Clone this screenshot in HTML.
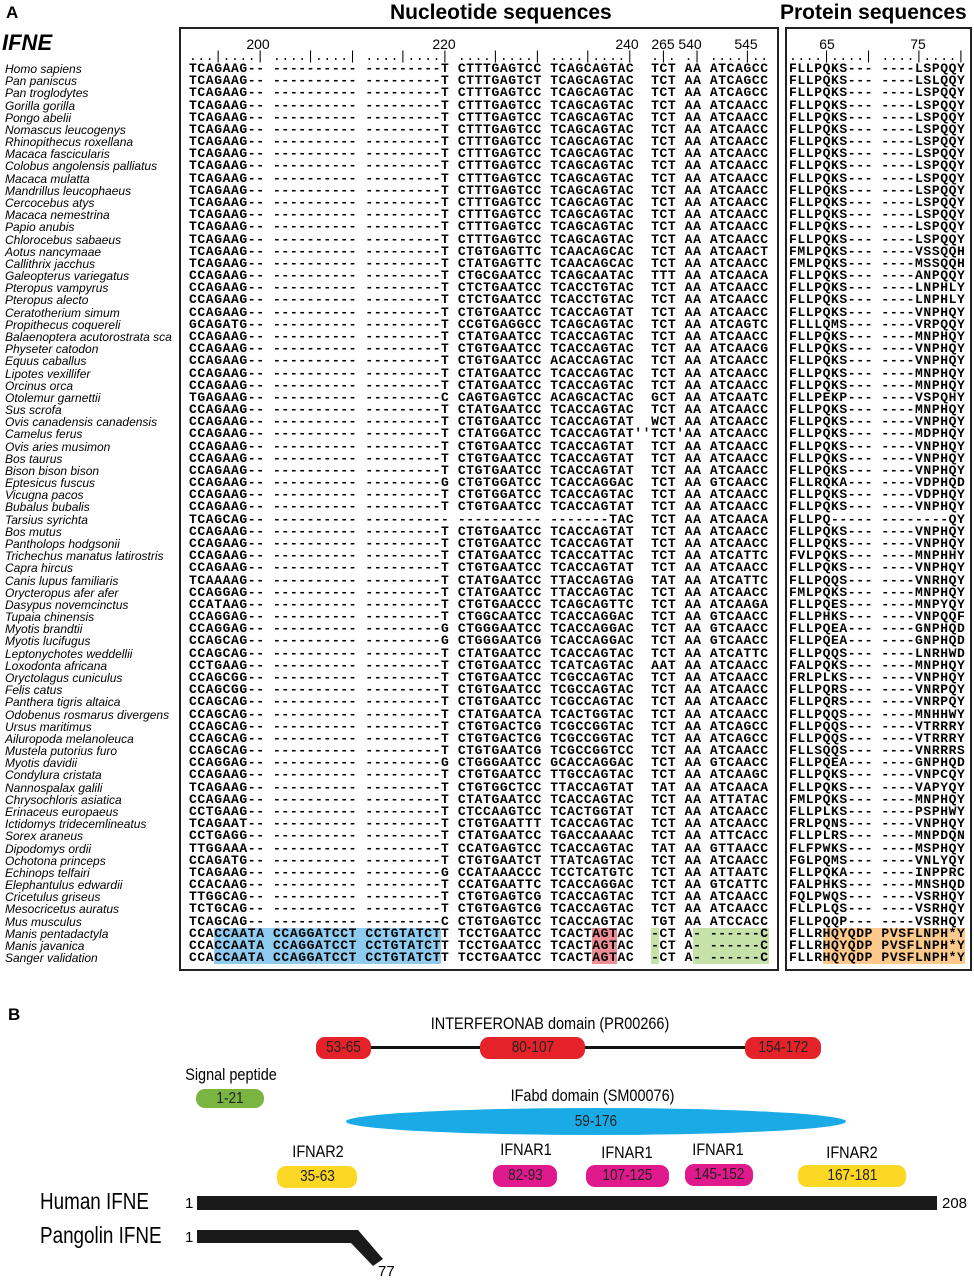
<!DOCTYPE html>
<html><head><meta charset="utf-8">
<style>
*{margin:0;padding:0;box-sizing:border-box}
body{width:974px;height:1280px;background:#fff;position:relative;overflow:hidden;font-family:"Liberation Sans",sans-serif;color:#000}
.abs{position:absolute;white-space:pre}
.mono{font-family:"Liberation Mono",monospace;font-weight:bold;font-size:13px;letter-spacing:0.6px;line-height:12.18px}
.sp{font-style:italic;font-size:12px;line-height:12.18px}
.box{position:absolute;border:2px solid #222}
.hl{position:absolute;height:12px}
.pill{position:absolute;border-radius:9px;text-align:center;font-size:16px;display:flex;align-items:center;justify-content:center;color:#222}
.pill span,.lbl{display:inline-block;transform:scaleX(0.85)}
.lbl{position:absolute;font-size:17px;white-space:nowrap;transform-origin:center}
</style></head><body>
<div class="abs" style="left:6px;top:3px;font-weight:bold;font-size:17px">A</div>
<div class="abs" style="left:2px;top:30px;font-weight:bold;font-style:italic;font-size:22px">IFNE</div>
<div class="abs" style="left:390px;top:1px;font-weight:bold;font-size:21px">Nucleotide sequences</div>
<div class="abs" style="left:780px;top:1px;font-weight:bold;font-size:21px">Protein sequences</div>
<div class="box" style="left:179px;top:27px;width:600px;height:944px"></div>
<div class="box" style="left:785px;top:27px;width:187px;height:944px"></div>
<div id="ticks"></div>
<div id="rows"></div>

<!-- Panel B -->
<div class="abs" style="left:8px;top:1005px;font-weight:bold;font-size:17px">B</div>
<div class="lbl" style="left:400px;top:1014px;width:300px;text-align:center">INTERFERONAB domain (PR00266)</div>
<div class="abs" style="left:340px;top:1046px;width:460px;height:3px;background:#111"></div>
<div class="pill" style="left:316px;top:1037px;width:55px;height:22px;background:#e52229"><span>53-65</span></div>
<div class="pill" style="left:480px;top:1037px;width:105px;height:22px;background:#e52229"><span>80-107</span></div>
<div class="pill" style="left:745px;top:1037px;width:76px;height:22px;background:#e52229"><span>154-172</span></div>
<div class="lbl" style="left:160px;top:1065px;width:142px;text-align:center">Signal peptide</div>
<div class="pill" style="left:196px;top:1089px;width:68px;height:19px;background:#7ab542"><span>1-21</span></div>
<div class="lbl" style="left:470px;top:1086px;width:245px;text-align:center">IFabd domain (SM00076)</div>
<div class="pill" style="left:346px;top:1108px;width:500px;height:27px;border-radius:50%;background:#1aabe6"><span>59-176</span></div>
<div class="lbl" style="left:280px;top:1142px;width:76px;text-align:center">IFNAR2</div>
<div class="pill" style="left:277px;top:1166px;width:80px;height:22px;background:#fcd723"><span>35-63</span></div>
<div class="lbl" style="left:488px;top:1140px;width:76px;text-align:center">IFNAR1</div>
<div class="pill" style="left:493px;top:1165px;width:64px;height:22px;background:#e0198c"><span>82-93</span></div>
<div class="lbl" style="left:589px;top:1143px;width:76px;text-align:center">IFNAR1</div>
<div class="pill" style="left:586px;top:1165px;width:83px;height:22px;background:#e0198c"><span>107-125</span></div>
<div class="lbl" style="left:680px;top:1140px;width:76px;text-align:center">IFNAR1</div>
<div class="pill" style="left:685px;top:1164px;width:68px;height:22px;background:#e0198c"><span>145-152</span></div>
<div class="lbl" style="left:814px;top:1143px;width:76px;text-align:center">IFNAR2</div>
<div class="pill" style="left:798px;top:1165px;width:108px;height:22px;background:#fcd723"><span>167-181</span></div>
<div class="abs" style="left:40px;top:1188px;font-size:23px;transform:scaleX(0.82);transform-origin:left">Human IFNE</div>
<div class="abs" style="left:185px;top:1195px;font-size:15px">1</div>
<div class="abs" style="left:197px;top:1196px;width:740px;height:14px;background:#1a1a1a"></div>
<div class="abs" style="left:942px;top:1195px;font-size:15px">208</div>
<div class="abs" style="left:40px;top:1222px;font-size:23px;transform:scaleX(0.82);transform-origin:left">Pangolin IFNE</div>
<div class="abs" style="left:185px;top:1229px;font-size:15px">1</div>
<svg class="abs" style="left:0;top:0" width="974" height="1280"><polygon points="197,1230 358,1230 383,1259 373,1266 351,1243 197,1243" fill="#1a1a1a"/></svg>
<div class="abs" style="left:378px;top:1263px;font-size:15px">77</div>

<script>
const tickLabels=["200","220","240","265","540","545"];
const tickX=[258,444,627,663,690,746];
const protTickLabels=["65","75"];
const protTickX=[827,918];
const rowsData=[
["Homo sapiens","TCAGAAG--","---------T","CTTTGAGTCC","TCAGCAGTAC","TCT","AA","ATCAGCC","FLLPQKS---","----LSPQQY"],
["Pan paniscus","TCAGAAG--","---------T","CTTTGAGTCT","TCAGCAGTAC","TCT","AA","ATCAGCC","FLLPQKS---","----LSLQQY"],
["Pan troglodytes","TCAGAAG--","---------T","CTTTGAGTCC","TCAGCAGTAC","TCT","AA","ATCAGCC","FLLPQKS---","----LSPQQY"],
["Gorilla gorilla","TCAGAAG--","---------T","CTTTGAGTCC","TCAGCAGTAC","TCT","AA","ATCAACC","FLLPQKS---","----LSPQQY"],
["Pongo abelii","TCAGAAG--","---------T","CTTTGAGTCC","TCAGCAGTAC","TCT","AA","ATCAACC","FLLPQKS---","----LSPQQY"],
["Nomascus leucogenys","TCAGAAG--","---------T","CTTTGAGTCC","TCAGCAGTAC","TCT","AA","ATCAACC","FLLPQKS---","----LSPQQY"],
["Rhinopithecus roxellana","TCAGAAG--","---------T","CTTTGAGTCC","TCAGCAGTAC","TCT","AA","ATCAACC","FLLPQKS---","----LSPQQY"],
["Macaca fascicularis","TCAGAAG--","---------T","CTTTGAGTCC","TCAGCAGTAC","TCT","AA","ATCAACC","FLLPQKS---","----LSPQQY"],
["Colobus angolensis palliatus","TCAGAAG--","---------T","CTTTGAGTCC","TCAGCAGTAC","TCT","AA","ATCAACC","FLLPQKS---","----LSPQQY"],
["Macaca mulatta","TCAGAAG--","---------T","CTTTGAGTCC","TCAGCAGTAC","TCT","AA","ATCAACC","FLLPQKS---","----LSPQQY"],
["Mandrillus leucophaeus","TCAGAAG--","---------T","CTTTGAGTCC","TCAGCAGTAC","TCT","AA","ATCAACC","FLLPQKS---","----LSPQQY"],
["Cercocebus atys","TCAGAAG--","---------T","CTTTGAGTCC","TCAGCAGTAC","TCT","AA","ATCAACC","FLLPQKS---","----LSPQQY"],
["Macaca nemestrina","TCAGAAG--","---------T","CTTTGAGTCC","TCAGCAGTAC","TCT","AA","ATCAACC","FLLPQKS---","----LSPQQY"],
["Papio anubis","TCAGAAG--","---------T","CTTTGAGTCC","TCAGCAGTAC","TCT","AA","ATCAACC","FLLPQKS---","----LSPQQY"],
["Chlorocebus sabaeus","TCAGAAG--","---------T","CTTTGAGTCC","TCAGCAGTAC","TCT","AA","ATCAACC","FLLPQKS---","----LSPQQY"],
["Aotus nancymaae","TCAGAAG--","---------T","CTGTGAGTTC","TCAACAGCAC","TCT","AA","ATCAACT","FMLPQKS---","----VSSQQH"],
["Callithrix jacchus","TCAGAAG--","---------T","CTATGAGTTC","TCAACAGCAC","TCT","AA","ATCAACC","FMLPQKS---","----MSSQQH"],
["Galeopterus variegatus","CCAGAAG--","---------T","CTGCGAATCC","TCAGCAATAC","TTT","AA","ATCAACA","FLLPQKS---","----ANPQQY"],
["Pteropus vampyrus","CCAGAAG--","---------T","CTCTGAATCC","TCACCTGTAC","TCT","AA","ATCAACC","FLLPQKS---","----LNPHLY"],
["Pteropus alecto","CCAGAAG--","---------T","CTCTGAATCC","TCACCTGTAC","TCT","AA","ATCAACC","FLLPQKS---","----LNPHLY"],
["Ceratotherium simum","CCAGAAG--","---------T","CTGTGAATCC","TCACCAGTAT","TCT","AA","ATCAACC","FLLPQKS---","----VNPHQY"],
["Propithecus coquereli","GCAGATG--","---------T","CCGTGAGGCC","TCAGCAGTAC","TCT","AA","ATCAGTC","FLLLQMS---","----VRPQQY"],
["Balaenoptera acutorostrata sca","CCAGAAG--","---------T","CTATGAATCC","TCACCAGTAC","TCT","AA","ATCAACC","FLLPQKS---","----MNPHQY"],
["Physeter catodon","CCAGAAG--","---------T","CTGTGAATCC","TCACCAGTAC","TCT","AA","ATCAACG","FLLPQKS---","----VNPHQY"],
["Equus caballus","CCAGAAG--","---------T","CTGTGAATCC","ACACCAGTAC","TCT","AA","ATCAACC","FLLPQKS---","----VNPHQY"],
["Lipotes vexillifer","CCAGAAG--","---------T","CTATGAATCC","TCACCAGTAC","TCT","AA","ATCAACC","FLLPQKS---","----MNPHQY"],
["Orcinus orca","CCAGAAG--","---------T","CTATGAATCC","TCACCAGTAC","TCT","AA","ATCAACC","FLLPQKS---","----MNPHQY"],
["Otolemur garnettii","TGAGAAG--","---------C","CAGTGAGTCC","ACAGCACTAC","GCT","AA","ATCAATC","FLLPEKP---","----VSPQHY"],
["Sus scrofa","CCAGAAG--","---------T","CTATGAATCC","TCACCAGTAC","TCT","AA","ATCAACC","FLLPQKS---","----MNPHQY"],
["Ovis canadensis canadensis","CCAGAAG--","---------T","CTGTGAATCC","TCACCAGTAT","WCT","AA","ATCAACC","FLLPQKS---","----VNPHQY"],
["Camelus ferus","CCAGAAG--","---------T","CTATGGATCC","TCACCAGTAT","TCT","AA","ATCAACC","FLLPQKS---","----MDPHQY"],
["Ovis aries musimon","CCAGAAG--","---------T","CTGTGAATCC","TCACCAGTAT","TCT","AA","ATCAACC","FLLPQKS---","----VNPHQY"],
["Bos taurus","CCAGAAG--","---------T","CTGTGAATCC","TCACCAGTAT","TCT","AA","ATCAACC","FLLPQKS---","----VNPHQY"],
["Bison bison bison","CCAGAAG--","---------T","CTGTGAATCC","TCACCAGTAT","TCT","AA","ATCAACC","FLLPQKS---","----VNPHQY"],
["Eptesicus fuscus","CCAGAAG--","---------G","CTGTGGATCC","TCACCAGGAC","TCT","AA","GTCAACC","FLLRQKA---","----VDPHQD"],
["Vicugna pacos","CCAGAAG--","---------T","CTGTGGATCC","TCACCAGTAC","TCT","AA","ATCAACC","FLLPQKS---","----VDPHQY"],
["Bubalus bubalis","CCAGAAG--","---------T","CTGTGAATCC","TCACCAGTAT","TCT","AA","ATCAACC","FLLPQKS---","----VNPHQY"],
["Tarsius syrichta","TCAGCAG--","----------","----------","-------TAC","TCT","AA","ATCAACA","FLLPQ-----","--------QY"],
["Bos mutus","CCAGAAG--","---------T","CTGTGAATCC","TCACCAGTAT","TCT","AA","ATCAACC","FLLPQKS---","----VNPHQY"],
["Pantholops hodgsonii","CCAGAAG--","---------T","CTGTGAATCC","TCACCAGTAT","TCT","AA","ATCAACC","FLLPQKS---","----VNPHQY"],
["Trichechus manatus latirostris","CCAGAAG--","---------T","CTATGAATCC","TCACCATTAC","TCT","AA","ATCATTC","FVLPQKS---","----MNPHHY"],
["Capra hircus","CCAGAAG--","---------T","CTGTGAATCC","TCACCAGTAT","TCT","AA","ATCAACC","FLLPQKS---","----VNPHQY"],
["Canis lupus familiaris","TCAAAAG--","---------T","CTATGAATCC","TTACCAGTAG","TAT","AA","ATCATTC","FLLPQQS---","----VNRHQY"],
["Orycteropus afer afer","CCAGGAG--","---------T","CTATGAATCC","TTACCAGTAC","TCT","AA","ATCAACC","FMLPQKS---","----MNPHQY"],
["Dasypus novemcinctus","CCATAAG--","---------T","CTGTGAACCC","TCAGCAGTTC","TCT","AA","ATCAAGA","FLLPQES---","----MNPYQY"],
["Tupaia chinensis","CCAGGAG--","---------T","CTGGCAATCC","TCACCAGGAC","TCT","AA","GTCAACC","FLLPHKS---","----VNPQQF"],
["Myotis brandtii","CCAGGAG--","---------G","CTGGGAATCC","TCACCAGGAC","TCT","AA","GTCAACC","FLLPQEA---","----GNPHQD"],
["Myotis lucifugus","CCAGCAG--","---------G","CTGGGAATCG","TCACCAGGAC","TCT","AA","GTCAACC","FLLPQEA---","----GNPHQD"],
["Leptonychotes weddellii","CCAGCAG--","---------T","CTATGAATCC","TCACCAGTAC","TCT","AA","ATCATTC","FLLPQQS---","----LNRHWD"],
["Loxodonta africana","CCTGAAG--","---------T","CTGTGAATCC","TCATCAGTAC","AAT","AA","ATCAACC","FALPQKS---","----MNPHQY"],
["Oryctolagus cuniculus","CCAGCGG--","---------T","CTGTGAATCC","TCGCCAGTAC","TCT","AA","ATCAACC","FRLPLKS---","----VNPHQY"],
["Felis catus","CCAGCGG--","---------T","CTGTGAATCC","TCGCCAGTAC","TCT","AA","ATCAACC","FLLPQRS---","----VNRPQY"],
["Panthera tigris altaica","CCAGCAG--","---------T","CTGTGAATCC","TCGCCAGTAC","TCT","AA","ATCAACC","FLLPQRS---","----VNRPQY"],
["Odobenus rosmarus divergens","CCAGCAG--","---------T","CTATGAATCA","TCACTGGTAC","TCT","AA","ATCAACC","FLLPQQS---","----MNHHWY"],
["Ursus maritimus","CCAGCAG--","---------T","CTGTGACTCG","TCGCCGGTAC","TCT","AA","ATCAGCC","FLLPQQS---","----VTRRRY"],
["Ailuropoda melanoleuca","CCAGCAG--","---------T","CTGTGACTCG","TCGCCGGTAC","TCT","AA","ATCAGCC","FLLPQQS---","----VTRRRY"],
["Mustela putorius furo","CCAGCAG--","---------T","CTGTGAATCG","TCGCCGGTCC","TCT","AA","ATCAACC","FLLSQQS---","----VNRRRS"],
["Myotis davidii","CCAGGAG--","---------G","CTGGGAATCC","GCACCAGGAC","TCT","AA","GTCAACC","FLLPQEA---","----GNPHQD"],
["Condylura cristata","CCAGAAG--","---------T","CTGTGAATCC","TTGCCAGTAC","TCT","AA","ATCAAGC","FLLPQKS---","----VNPCQY"],
["Nannospalax galili","TCAGAAG--","---------T","CTGTGGCTCC","TTACCAGTAT","TAT","AA","ATCAACA","FLLPQKS---","----VAPYQY"],
["Chrysochloris asiatica","CCAGAAG--","---------T","CTATGAATCC","TCACCAGTAC","TCT","AA","ATTATAC","FMLPQKS---","----MNPHQY"],
["Erinaceus europaeus","CCTGAAG--","---------T","CTCCAAGTCC","TCACTGGTAT","TCT","AA","ATCAACC","FLLPLKS---","----PSPHWY"],
["Ictidomys tridecemlineatus","TCAGAAT--","---------T","CTGTGAATTT","TCACCAGTAC","TCT","AA","ATCAACC","FRLPQNS---","----VNPHQY"],
["Sorex araneus","CCTGAGG--","---------T","CTATGAATCC","TGACCAAAAC","TCT","AA","ATTCACC","FLLPLRS---","----MNPDQN"],
["Dipodomys ordii","TTGGAAA--","---------T","CCATGAGTCC","TCACCAGTAC","TAT","AA","GTTAACC","FLFPWKS---","----MSPHQY"],
["Ochotona princeps","CCAGATG--","---------T","CTGTGAATCT","TTATCAGTAC","TCT","AA","ATCAACC","FGLPQMS---","----VNLYQY"],
["Echinops telfairi","TCAGAAG--","---------G","CCATAAACCC","TCCTCATGTC","TCT","AA","ATTAATC","FLLPQKA---","----INPPRC"],
["Elephantulus edwardii","CCACAAG--","---------T","CCATGAATTC","TCACCAGGAC","TCT","AA","GTCATTC","FALPHKS---","----MNSHQD"],
["Cricetulus griseus","TTGGCAG--","---------T","CTGTGAGTCG","TCACCAGTAC","TCT","AA","ATCAACC","FQLPWQS---","----VSRHQY"],
["Mesocricetus auratus","TCTGCAG--","---------T","CTGTGAGTCG","TCACCAGTAC","TCT","AA","ATCAACC","FLLPLQS---","----VSRHQY"],
["Mus musculus","TCAGCAG--","---------C","CTGTGAGTCC","TCACCAGTAC","TGT","AA","ATCCACC","FLLPQQP---","----VSRHQY"],
["Manis pentadactyla","CCACCAATA","CCTGTATCTT","TCCTGAATCC","TCACTAGTAC","-CT","A-","------C","FLLRHQYQDP","PVSFLNPH*Y"],
["Manis javanica","CCACCAATA","CCTGTATCTT","TCCTGAATCC","TCACTAGTAC","-CT","A-","------C","FLLRHQYQDP","PVSFLNPH*Y"],
["Sanger validation","CCACCAATA","CCTGTATCTT","TCCTGAATCC","TCACTAGTAC","-CT","A-","------C","FLLRHQYQDP","PVSFLNPH*Y"]
];
const group2Manis="CCAGGATCCT";
const CW=8.4, NX=189, PX=789, TOP=63, PITCH=12.18;
const ticks=document.getElementById('ticks');
function mk(parent,cls,style,txt){const d=document.createElement('div');d.className=cls;d.setAttribute('style',style);d.textContent=txt;parent.appendChild(d);return d;}
tickLabels.forEach((t,i)=>{
  const d=mk(ticks,'abs','left:'+(tickX[i]-15)+'px;top:36px;width:30px;text-align:center;font-size:14px',t);
  
  
});
protTickLabels.forEach((t,i)=>{
  const d=mk(ticks,'abs','left:'+(protTickX[i]-15)+'px;top:36px;width:30px;text-align:center;font-size:14px',t);
  
  
});
let r1=mk(ticks,'abs mono','left:'+NX+'px;top:51px;font-weight:normal','...|....| ....|....| ....|....| ....|....| ....|....|  .|. .| ....|..');


let r2=mk(ticks,'abs mono','left:'+PX+'px;top:51px;font-weight:normal','....|....| ....|....|');



const rows=document.getElementById('rows');
rowsData.forEach((r,i)=>{
  const y=TOP+i*PITCH;
  const manis=r[0].startsWith('Manis')||r[0].startsWith('Sanger');
  if(manis){
    const hls=[[NX+3*CW,NX+30*CW,'#8ecbef'],[NX+(44+4)*CW,NX+(44+7)*CW,'#ec8d96'],[NX+55*CW,NX+56*CW,'#c6e2a9'],[NX+60*CW,NX+69*CW,'#c6e2a9'],[PX+4*CW,PX+21*CW,'#fbc98c']];
    hls.forEach(h=>{const d=mk(rows,'hl','left:'+h[0]+'px;top:'+(y)+'px;width:'+(h[1]-h[0])+'px;background:'+h[2],'');
      
      });
  }
  const n=mk(rows,'abs sp','left:5px;top:'+y+'px',r[0]);
  
  
  const g2=manis?group2Manis:'----------';
  let sep1='  ',sep2=' ';
  if(r[0]==='Camelus ferus'){sep1="''";sep2="'";}
  const nuc=r[1]+' '+g2+' '+r[2]+' '+r[3]+' '+r[4]+sep1+r[5]+sep2+r[6]+' '+r[7];
  const s=mk(rows,'abs mono','left:'+NX+'px;top:'+y+'px',nuc);
  
  
  const p=mk(rows,'abs mono','left:'+PX+'px;top:'+y+'px',r[8]+' '+r[9]);
  
  
});
</script>
</body></html>
